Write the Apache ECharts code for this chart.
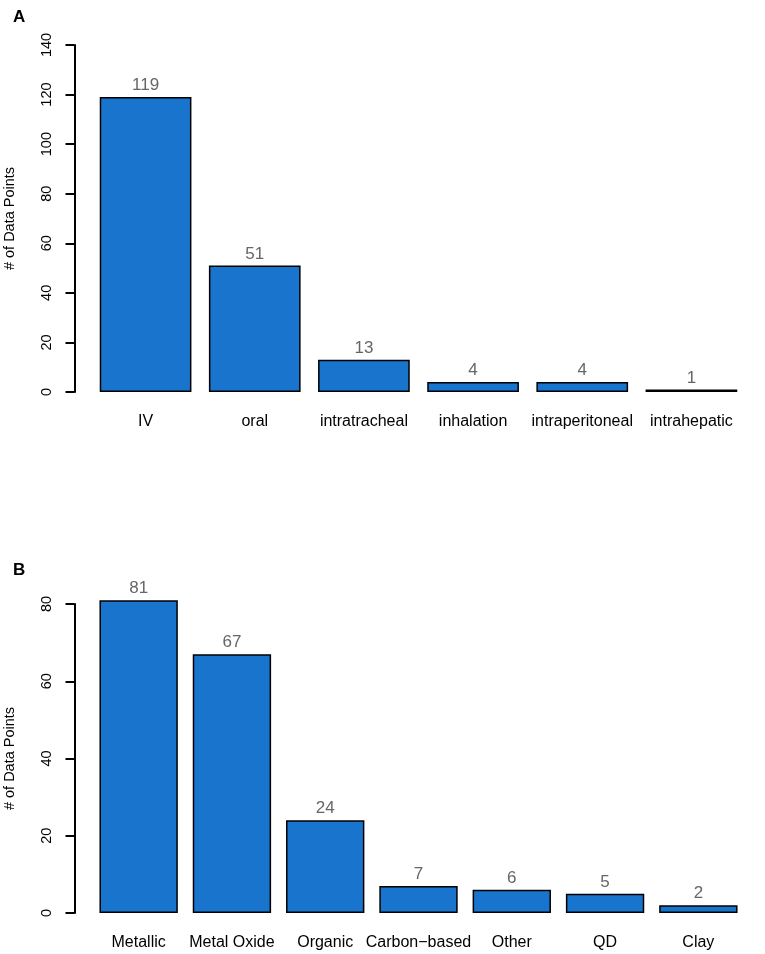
<!DOCTYPE html>
<html>
<head>
<meta charset="utf-8">
<script src="https://cdn.jsdelivr.net/npm/echarts@6/dist/echarts.min.js"></script>
<style>
  html, body { margin: 0; padding: 0; background: #fff; }
  #main { width: 765px; height: 954px; }
</style>
</head>
<body>
<div id="main"></div>
<script>
// panel A: exposure routes
var routeCats = ['IV', 'oral', 'intratracheal', 'inhalation', 'intraperitoneal', 'intrahepatic'];
var routeCounts = [119, 51, 13, 4, 4, 1];
var routeTicks = [0, 20, 40, 60, 80, 100, 120, 140];

// panel B: material types
var typeCats = ['Metallic', 'Metal Oxide', 'Organic', 'Carbon\u2212based', 'Other', 'QD', 'Clay'];
var typeCounts = [81, 67, 24, 7, 6, 5, 2];
var typeTicks = [0, 20, 40, 60, 80];

var font = 'Liberation Sans, Arial, Helvetica, sans-serif';
var barColor = '#1874CD';

function yAxisFor(gridIndex, ticks, offset) {
    return {
        type: 'value',
        gridIndex: gridIndex,
        min: ticks[0],
        max: ticks[ticks.length - 1],
        interval: ticks[1] - ticks[0],
        offset: offset,
        name: '# of Data Points',
        nameLocation: 'middle',
        nameGap: 57,
        nameTextStyle: { color: '#000', fontSize: 14.5, fontFamily: font },
        axisLine: { show: true, lineStyle: { color: '#000', width: 2 } },
        axisTick: { show: true, length: 9, lineStyle: { color: '#000', width: 2 } },
        axisLabel: { rotate: 90, margin: 20, color: '#000', fontSize: 14.5, fontFamily: font },
        splitLine: { show: false }
    };
}

function xAxisFor(gridIndex, cats) {
    return {
        type: 'category',
        gridIndex: gridIndex,
        data: cats,
        axisLine: { show: false },
        axisTick: { show: false },
        axisLabel: { margin: 22, color: '#000', fontSize: 16, fontFamily: font, interval: 0 }
    };
}

function barSeries(idx, values) {
    return {
        type: 'bar',
        xAxisIndex: idx,
        yAxisIndex: idx,
        data: values,
        barCategoryGap: '16%',
        clip: false,
        itemStyle: { color: barColor, borderColor: '#000', borderWidth: 1.5 },
        label: {
            show: true,
            position: 'top',
            distance: 3,
            color: '#666',
            fontSize: 17,
            fontFamily: font
        }
    };
}

var myChart = echarts.init(document.getElementById('main'));

var option = {
    backgroundColor: '#fff',
    animation: false,
    title: [
        { text: 'A', left: 8, top: 4, textStyle: { fontSize: 17, fontWeight: 'bold', color: '#000', fontFamily: font } },
        { text: 'B', left: 8, top: 557, textStyle: { fontSize: 17, fontWeight: 'bold', color: '#000', fontFamily: font } }
    ],
    grid: [
        { left: 91, top: 45, width: 655, height: 347, outerBoundsMode: 'none', containLabel: false },
        { left: 92, top: 604, width: 653, height: 309, outerBoundsMode: 'none', containLabel: false }
    ],
    xAxis: [xAxisFor(0, routeCats), xAxisFor(1, typeCats)],
    yAxis: [yAxisFor(0, routeTicks, 16.5), yAxisFor(1, typeTicks, 17.5)],
    series: [barSeries(0, routeCounts), barSeries(1, typeCounts)]
};

myChart.setOption(option);
</script>
</body>
</html>
